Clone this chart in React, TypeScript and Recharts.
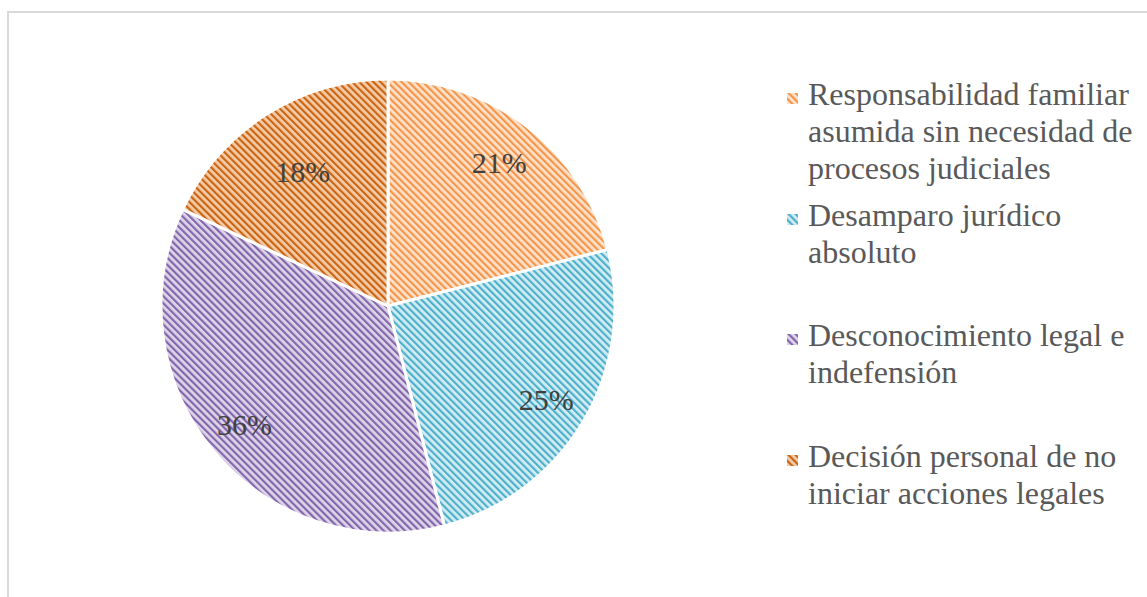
import React from 'react';
import { PieChart, Pie, Cell, Legend } from 'recharts';

const categories = [
  'Responsabilidad familiar asumida sin necesidad de procesos judiciales',
  'Desamparo jurídico absoluto',
  'Desconocimiento legal e indefensión',
  'Decisión personal de no iniciar acciones legales',
];
const percentages = [21, 25, 36, 18];

const chartData = categories.map((name, i) => ({ name, value: percentages[i] }));

// stripe pattern per slice: background + diagonal stripe colour
const patterns = [
  { id: 'pat-orange', bg: '#fde2cb', stripe: '#f5954a' },
  { id: 'pat-blue', bg: '#d3edf4', stripe: '#4eb0ca' },
  { id: 'pat-purple', bg: '#ddd5e8', stripe: '#8466ad' },
  { id: 'pat-dark', bg: '#f3cca9', stripe: '#cb6512' },
];

// excel "best fit" puts the labels at slightly different radii
const labelRadius = [0.8, 0.81, 0.82, 0.7];

const FONT = '"Liberation Serif", "Times New Roman", serif';
const RAD = Math.PI / 180;

function PatternDefs() {
  return (
    <svg width={0} height={0} style={{ position: 'absolute' }}>
      <defs>
        {patterns.map((p) => (
          <pattern
            key={p.id}
            id={p.id}
            patternUnits="userSpaceOnUse"
            width={5}
            height={5}
            patternTransform="rotate(-45)"
          >
            <rect x={0} y={0} width={5} height={5} fill={p.bg} />
            <rect x={0} y={0} width={2.2} height={5} fill={p.stripe} />
          </pattern>
        ))}
      </defs>
    </svg>
  );
}

function renderLabel(props: any) {
  const { cx, cy, midAngle, outerRadius, index, value } = props;
  const r = outerRadius * labelRadius[index];
  const x = cx + r * Math.cos(-midAngle * RAD);
  const y = cy + r * Math.sin(-midAngle * RAD);
  return (
    <text
      x={x}
      y={y}
      fill="#404040"
      fontSize={30}
      fontFamily={FONT}
      textAnchor="middle"
      dominantBaseline="central"
    >
      {value}%
    </text>
  );
}

// legend drawn in data order (recharts would sort the payload by name)
function LegendContent() {
  return (
    <div style={{ position: 'relative', width: 360 }}>
      {categories.map((name, i) => (
        <div key={name} style={{ position: 'relative', height: 120.7 }}>
          <svg
            width={11}
            height={11}
            style={{ position: 'absolute', left: 0, top: 17 }}
          >
            <rect x={0} y={0} width={11} height={11} fill={`url(#${patterns[i].id})`} />
          </svg>
          <div
            style={{
              position: 'absolute',
              left: 21,
              top: 0,
              width: 335,
              fontFamily: FONT,
              fontSize: 32,
              lineHeight: '37px',
              color: '#595959',
            }}
          >
            {name}
          </div>
        </div>
      ))}
    </div>
  );
}

export default function App() {
  return (
    <div
      style={{
        position: 'absolute',
        left: 0,
        top: 0,
        width: 1147,
        height: 597,
        overflow: 'hidden',
        background: '#fff',
      }}
    >
      <PatternDefs />
      <div
        style={{
          position: 'absolute',
          left: 7,
          top: 11,
          width: 1160,
          height: 620,
          border: '2px solid #d9d9d9',
        }}
      />
      <div style={{ position: 'absolute', left: 0, top: 0 }}>
        <PieChart width={1147} height={597} margin={{ top: 0, right: 0, bottom: 0, left: 0 }}>
          <Pie
            data={chartData}
            dataKey="value"
            nameKey="name"
            cx={388}
            cy={306}
            outerRadius={227}
            startAngle={90}
            endAngle={-270}
            stroke="#ffffff"
            strokeWidth={3}
            label={renderLabel}
            labelLine={false}
            isAnimationActive={false}
          >
            {chartData.map((_, i) => (
              <Cell key={`cell-${i}`} fill={`url(#${patterns[i].id})`} />
            ))}
          </Pie>
          <Legend
            layout="vertical"
            content={<LegendContent />}
            wrapperStyle={{ position: 'absolute', left: 787, top: 76, width: 360 }}
          />
        </PieChart>
      </div>
    </div>
  );
}
